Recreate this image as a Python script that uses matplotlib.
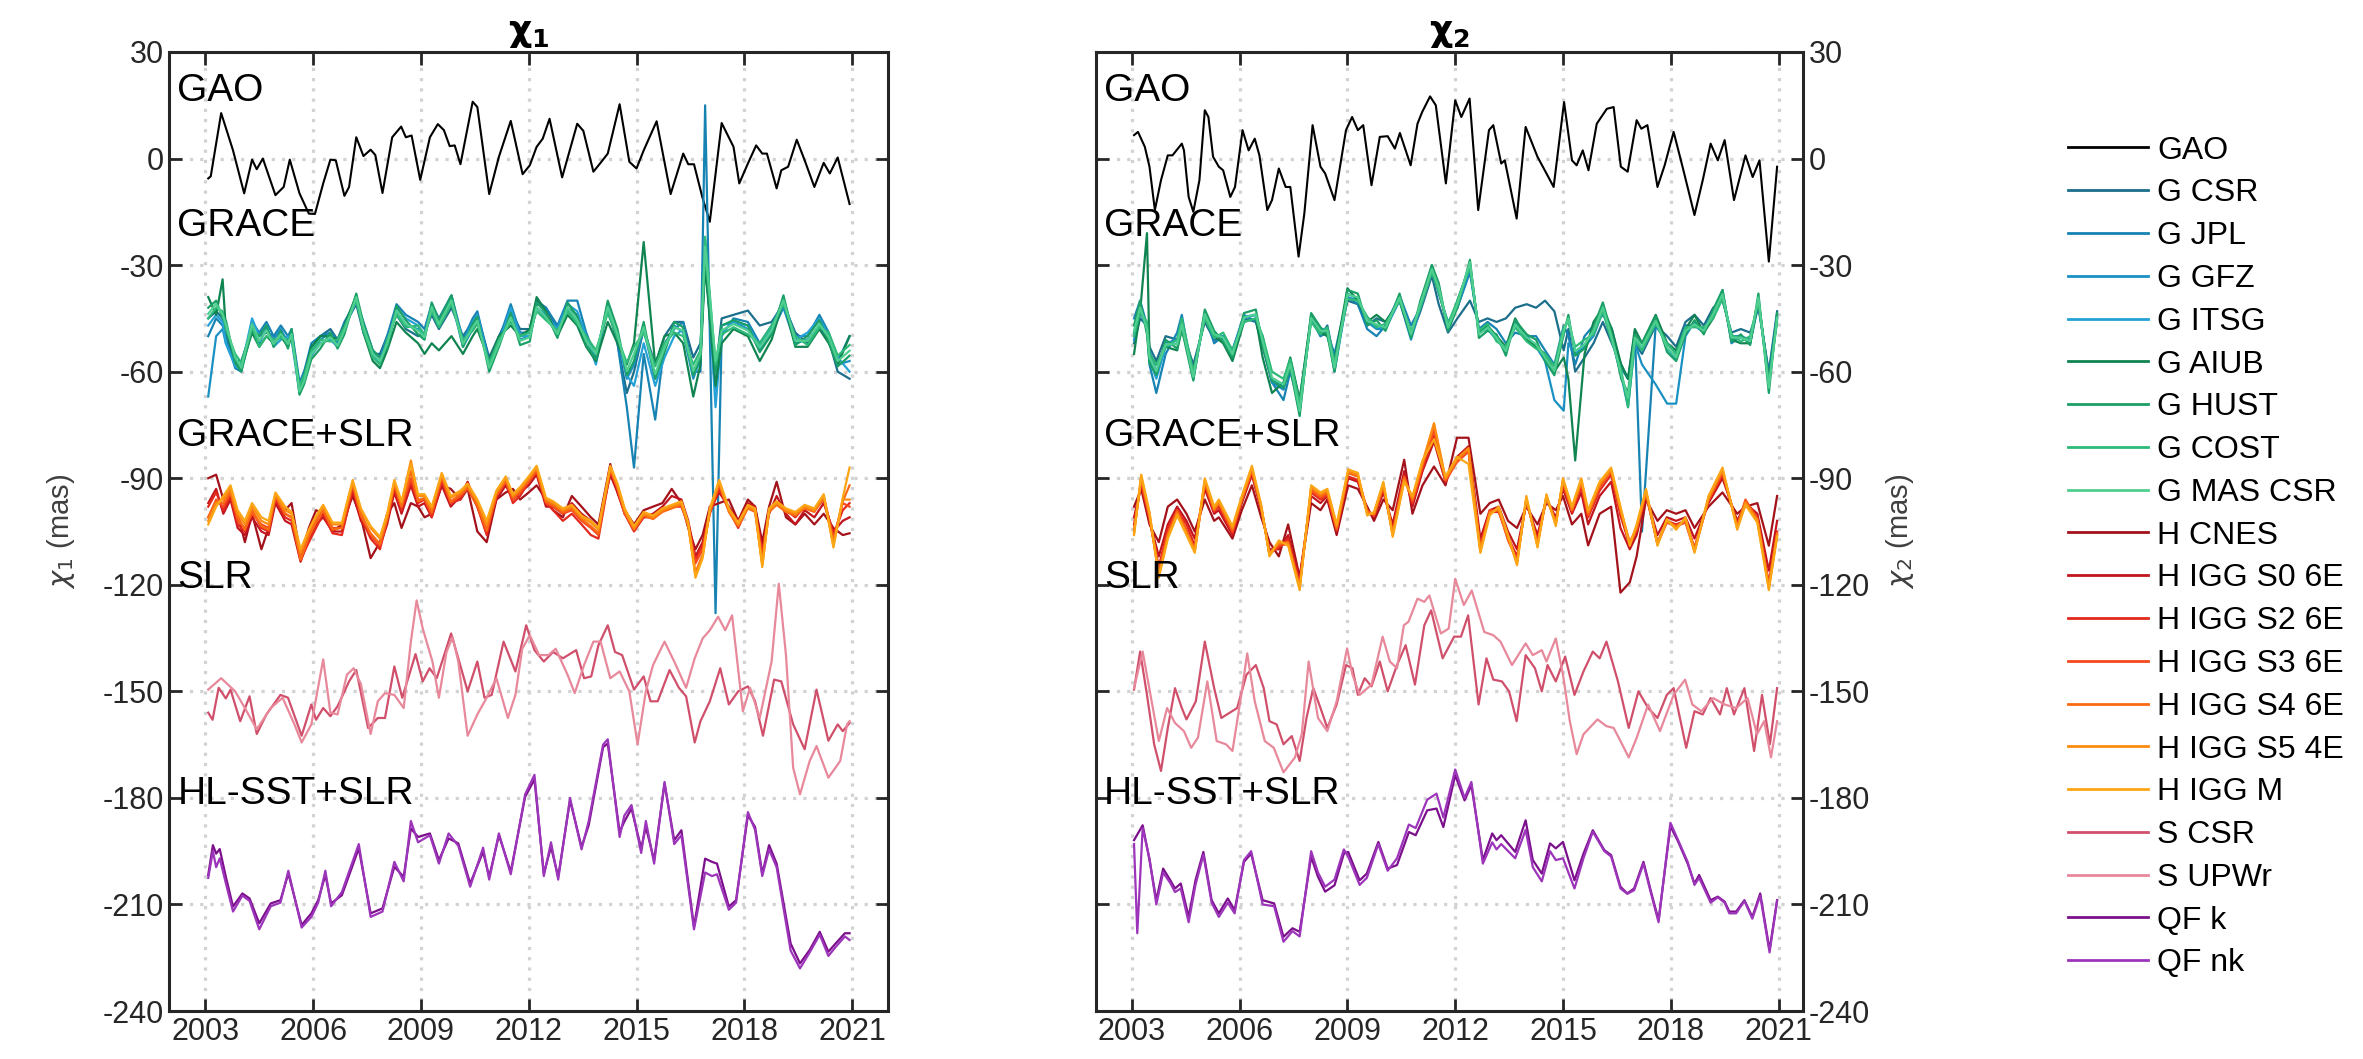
import matplotlib
matplotlib.use('Agg')
import matplotlib.pyplot as plt
from matplotlib.lines import Line2D

plt.rcParams['font.family'] = ['Liberation Sans', 'DejaVu Sans']
plt.rcParams['axes.unicode_minus'] = False

# ---------------- chi1 (left panel) ----------------
t_gao1 = [2003.08, 2003.15, 2003.44, 2003.77, 2004.08, 2004.3, 2004.43, 2004.6, 2004.95, 2005.18,
          2005.35, 2005.62, 2005.88, 2006.05, 2006.28, 2006.48, 2006.63, 2006.87, 2007.0, 2007.2,
          2007.4, 2007.6, 2007.73, 2007.93, 2008.2, 2008.45, 2008.58, 2008.74, 2008.98, 2009.25,
          2009.47, 2009.64, 2009.8, 2009.94, 2010.1, 2010.44, 2010.57, 2010.9, 2011.17, 2011.5,
          2011.83, 2012.03, 2012.22, 2012.39, 2012.58, 2012.93, 2013.35, 2013.52, 2013.8, 2014.0,
          2014.2, 2014.53, 2014.8, 2015.0, 2015.2, 2015.56, 2015.95, 2016.3, 2016.44, 2016.6,
          2016.83, 2017.04, 2017.37, 2017.7, 2017.86, 2018.1, 2018.33, 2018.5, 2018.63, 2018.9,
          2019.03, 2019.22, 2019.46, 2019.68, 2019.95, 2020.21, 2020.38, 2020.6, 2020.93]
gao1 = [-5.6, -5.0, 12.8, 2.3, -9.8, -0.3, -3.0, 0.0, -10.3, -8.0,
        -0.3, -9.8, -15.5, -15.6, -7.0, -0.3, -0.5, -10.5, -8.0, 6.0,
        0.7, 2.5, 1.0, -9.7, 6.0, 9.0, 6.0, 6.5, -6.0, 6.0,
        9.7, 8.0, 3.5, 3.7, -1.6, 16.0, 14.5, -10.0, 0.5, 10.6,
        -4.4, -1.9, 3.3, 5.6, 11.2, -5.3, 9.8, 7.8, -3.7, -1.2,
        1.4, 15.3, -0.9, -2.8, 2.3, 10.5, -10.0, 1.4, -1.6, -1.6,
        -10.8, -17.8, 10.0, 3.3, -7.0, -1.4, 3.7, 1.4, 1.4, -8.4,
        -3.3, -2.3, 5.3, -0.5, -8.0, -1.2, -4.2, 0.3, -12.8]

t_gr1 = [2003.08, 2003.3, 2003.48, 2003.57, 2003.83, 2004.0, 2004.3, 2004.5, 2004.7, 2004.9, 2005.1, 2005.3,
         2005.4, 2005.62, 2005.75, 2005.95, 2006.2, 2006.48, 2006.68, 2006.87, 2007.2, 2007.4, 2007.66, 2007.86,
         2008.06, 2008.32, 2008.58, 2008.92, 2009.1, 2009.3, 2009.5, 2009.85, 2010.17, 2010.44, 2010.57, 2010.9,
         2011.17, 2011.5, 2011.76, 2012.03, 2012.22, 2012.48, 2012.8, 2013.08, 2013.35, 2013.6, 2013.87, 2014.2,
         2014.47, 2014.73, 2014.93, 2015.2, 2015.52, 2015.78, 2016.05, 2016.3, 2016.58, 2016.78, 2016.91, 2017.2,
         2017.37, 2017.7, 2018.1, 2018.43, 2018.76, 2019.09, 2019.42, 2019.76, 2020.09, 2020.35, 2020.6, 2020.93]
g_csr1 = [-45.0, -43.0, -45.0, -49.0, -57.0, -57.0, -48.0, -50.0, -49.0, -50.0, -49.0, -51.0,
          -50.0, -64.0, -60.0, -54.0, -50.0, -48.0, -51.0, -47.0, -41.0, -49.0, -55.0, -55.0,
          -50.0, -44.0, -48.0, -50.0, -49.0, -44.0, -48.0, -42.0, -50.0, -46.0, -44.0, -56.0,
          -50.0, -43.0, -48.0, -48.0, -40.0, -42.0, -48.0, -42.0, -44.0, -50.0, -57.0, -42.0,
          -52.0, -66.0, -60.0, -48.0, -58.0, -50.0, -46.0, -46.0, -56.0, -52.0, -30.0, -60.0,
          -45.0, -44.0, -42.8, -47.0, -46.0, -41.0, -49.0, -52.0, -47.0, -51.0, -60.0, -62.0]
g_jpl1 = [-50.0, -45.0, -47.0, -50.0, -59.0, -60.0, -46.0, -49.0, -46.0, -50.0, -47.0, -50.0,
          -48.0, -63.0, -60.0, -52.0, -50.0, -49.0, -51.0, -46.0, -40.0, -46.0, -54.0, -56.0,
          -50.0, -41.0, -44.0, -46.0, -48.0, -41.0, -45.0, -38.5, -51.0, -45.0, -43.0, -57.0,
          -51.0, -41.0, -49.0, -49.0, -41.0, -42.0, -47.0, -40.0, -40.0, -49.0, -56.0, -41.0,
          -52.0, -70.0, -87.0, -55.0, -73.5, -52.0, -48.0, -46.0, -60.0, -60.0, 15.0, -128.0,
          -50.0, -45.0, -46.0, -52.0, -47.0, -40.0, -50.0, -50.0, -44.0, -49.0, -57.0, -50.0]
g_gfz1 = [-67.0, -50.0, -48.0, -52.0, -58.0, -58.0, -47.0, -52.0, -48.0, -51.0, -48.0, -52.0,
          -49.0, -64.0, -61.0, -55.0, -51.0, -49.0, -52.0, -47.0, -40.0, -48.0, -56.0, -57.0,
          -52.0, -43.0, -47.0, -48.0, -50.0, -43.0, -47.0, -40.0, -53.0, -48.0, -45.0, -58.0,
          -52.0, -44.0, -51.0, -50.0, -42.0, -45.0, -49.0, -42.0, -46.0, -51.0, -56.0, -42.0,
          -50.0, -62.0, -58.0, -48.0, -62.0, -54.0, -47.0, -49.0, -62.0, -56.0, -28.0, -65.0,
          -47.0, -46.0, -48.0, -54.0, -49.0, -42.0, -52.0, -51.0, -47.0, -51.0, -58.0, -57.0]
g_itsg1 = [-47.0, -44.0, -46.0, -52.0, -58.5, -59.0, -45.0, -50.0, -47.0, -53.0, -51.0, -50.0,
           -51.0, -66.0, -62.0, -55.5, -52.0, -51.0, -53.0, -48.0, -40.0, -47.0, -54.5, -57.5,
           -52.5, -42.0, -45.0, -47.0, -50.0, -41.0, -46.0, -39.0, -52.0, -46.0, -44.0, -58.0,
           -52.0, -42.0, -50.0, -50.0, -42.0, -44.0, -48.0, -41.0, -43.0, -50.0, -58.0, -41.0,
           -50.0, -61.0, -64.0, -52.0, -64.0, -56.0, -50.0, -48.0, -61.0, -57.0, -23.0, -70.0,
           -49.0, -46.0, -47.0, -53.0, -48.0, -40.0, -51.0, -49.0, -45.0, -50.0, -56.0, -60.0]
g_aiub1 = [-39.0, -44.0, -34.0, -48.0, -57.0, -59.0, -49.0, -53.0, -50.0, -52.0, -50.0, -53.0,
           -50.0, -64.5, -61.0, -53.0, -50.0, -50.0, -51.0, -47.0, -38.5, -49.0, -57.0, -59.0,
           -54.0, -46.0, -49.0, -52.0, -55.0, -52.0, -54.0, -50.0, -55.0, -50.0, -48.0, -57.0,
           -50.0, -47.0, -50.0, -48.0, -39.0, -43.0, -50.0, -44.0, -47.0, -53.0, -57.0, -46.0,
           -52.0, -58.0, -52.0, -23.5, -58.0, -50.0, -49.0, -52.0, -67.0, -58.0, -30.0, -64.0,
           -52.0, -48.0, -50.0, -57.0, -51.0, -40.0, -53.0, -53.0, -48.0, -52.0, -58.0, -50.0]
g_hust1 = [-42.0, -40.0, -45.0, -45.5, -57.5, -60.0, -48.0, -50.0, -47.0, -53.0, -48.5, -53.5,
           -48.0, -66.5, -63.5, -56.5, -53.5, -49.0, -53.5, -49.5, -38.0, -46.5, -54.0, -56.0,
           -53.5, -41.5, -45.5, -49.5, -51.0, -40.5, -45.5, -38.5, -53.0, -46.5, -44.5, -60.0,
           -53.0, -43.5, -52.5, -51.5, -40.5, -43.5, -50.5, -40.5, -44.5, -52.5, -56.5, -40.0,
           -48.0, -61.0, -57.0, -46.0, -62.0, -54.5, -46.0, -47.5, -61.0, -56.0, -27.0, -60.0,
           -47.0, -45.5, -47.0, -54.5, -49.5, -38.5, -52.5, -50.0, -45.5, -51.5, -58.5, -55.5]
g_cost1 = [-45.0, -42.0, -43.0, -48.0, -55.0, -57.5, -47.5, -53.0, -50.0, -51.0, -50.5, -51.0,
           -50.5, -64.0, -61.0, -54.0, -51.0, -51.5, -51.0, -47.5, -40.0, -48.5, -56.0, -58.0,
           -51.0, -44.0, -47.5, -47.0, -49.5, -43.0, -47.5, -41.0, -51.0, -48.5, -46.5, -57.5,
           -51.0, -46.0, -50.0, -49.0, -43.0, -45.5, -48.5, -43.0, -46.5, -50.0, -54.0, -43.5,
           -50.5, -57.5, -53.0, -49.0, -58.5, -52.0, -49.0, -50.0, -58.0, -54.0, -22.0, -58.0,
           -49.5, -47.5, -49.5, -52.0, -47.0, -41.0, -50.0, -52.5, -47.5, -49.0, -55.5, -52.5]
g_mas1 = [-43.7, -40.9, -44.0, -46.6, -56.0, -58.9, -46.6, -51.3, -48.4, -52.2, -49.4, -52.2,
          -49.4, -65.5, -62.6, -55.0, -52.2, -50.3, -52.7, -48.4, -39.0, -47.5, -55.0, -57.0,
          -52.2, -42.8, -46.6, -48.4, -50.3, -41.8, -46.6, -39.9, -52.2, -47.5, -45.6, -58.9,
          -52.2, -44.7, -51.3, -50.3, -41.8, -44.7, -49.4, -41.8, -45.6, -51.3, -55.0, -41.8,
          -49.4, -59.8, -55.0, -47.5, -60.7, -53.2, -47.5, -48.4, -59.8, -55.0, -24.8, -57.0,
          -48.4, -46.6, -48.4, -53.2, -48.4, -39.9, -51.3, -51.3, -46.6, -50.3, -57.0, -54.1]

t_gs1 = [2003.08, 2003.3, 2003.5, 2003.7, 2003.9, 2004.1, 2004.3, 2004.56, 2004.76, 2004.95, 2005.22, 2005.4,
         2005.65, 2005.88, 2006.08, 2006.28, 2006.54, 2006.8, 2007.1, 2007.33, 2007.6, 2007.86, 2008.06, 2008.26,
         2008.46, 2008.72, 2008.92, 2009.1, 2009.3, 2009.58, 2009.83, 2010.1, 2010.3, 2010.57, 2010.83, 2011.1,
         2011.36, 2011.56, 2011.76, 2012.0, 2012.22, 2012.48, 2012.68, 2012.95, 2013.2, 2013.47, 2013.73, 2013.94,
         2014.27, 2014.47, 2014.67, 2014.93, 2015.2, 2015.46, 2015.72, 2015.98, 2016.25, 2016.44, 2016.64, 2016.84,
         2017.04, 2017.3, 2017.57, 2017.83, 2018.1, 2018.3, 2018.5, 2018.69, 2018.9, 2019.16, 2019.42, 2019.68,
         2019.95, 2020.21, 2020.48, 2020.74, 2020.93]
h_cnes1 = [-90.0, -89.0, -96.0, -93.0, -100.0, -108.0, -100.0, -110.0, -104.0, -96.0, -99.0, -97.0,
           -112.0, -104.0, -99.0, -100.0, -105.0, -103.0, -95.0, -101.0, -112.5, -108.0, -100.0, -97.0,
           -104.0, -97.0, -98.0, -101.0, -100.0, -92.0, -93.0, -96.0, -93.0, -105.0, -108.0, -96.0,
           -94.0, -93.0, -96.0, -94.0, -92.0, -96.0, -99.0, -101.0, -95.0, -98.0, -101.0, -103.0,
           -86.0, -94.0, -99.0, -103.0, -99.0, -98.0, -97.0, -93.0, -97.0, -104.0, -110.0, -106.0,
           -98.0, -97.0, -96.0, -102.0, -96.0, -98.0, -108.0, -98.0, -91.0, -101.0, -103.0, -100.0,
           -103.0, -100.0, -104.0, -106.0, -105.5]
h_s0_1 = [-97.0, -93.0, -100.0, -96.0, -104.0, -106.0, -101.0, -105.0, -106.0, -97.0, -102.0, -103.0,
          -113.5, -107.0, -103.0, -101.0, -105.0, -105.0, -94.0, -102.0, -106.0, -109.0, -103.0, -94.0,
          -100.0, -92.0, -98.0, -97.0, -101.0, -92.0, -98.0, -95.0, -91.0, -98.0, -105.0, -96.0,
          -92.0, -96.0, -94.0, -92.0, -89.0, -98.0, -98.0, -100.0, -97.0, -100.0, -102.0, -104.0,
          -89.0, -94.0, -100.0, -103.0, -101.0, -100.0, -98.0, -95.0, -96.0, -102.0, -112.0, -108.0,
          -99.0, -94.0, -98.0, -102.0, -97.0, -98.0, -110.0, -100.0, -95.0, -100.0, -103.0, -99.0,
          -101.0, -97.0, -105.0, -102.0, -101.0]
h_s2_1 = [-98.0, -94.0, -99.0, -95.0, -103.0, -105.0, -99.0, -104.0, -105.0, -96.0, -101.0, -102.0,
          -113.0, -108.0, -104.0, -100.0, -105.5, -106.0, -93.0, -101.0, -107.0, -110.0, -102.0, -93.0,
          -99.0, -91.0, -97.0, -96.0, -101.0, -91.0, -97.0, -96.0, -92.0, -98.0, -106.0, -95.0,
          -91.0, -97.0, -95.0, -91.0, -88.5, -97.0, -99.0, -102.0, -100.0, -103.0, -106.0, -107.0,
          -88.0, -93.0, -100.0, -105.0, -101.0, -101.0, -99.0, -98.0, -98.0, -103.0, -113.0, -109.0,
          -100.0, -93.0, -99.0, -104.0, -98.0, -99.0, -111.0, -99.0, -97.0, -99.0, -101.0, -98.0,
          -99.0, -96.0, -106.0, -99.0, -97.0]
h_s3_1 = [-101.0, -96.0, -98.0, -94.0, -102.0, -104.0, -100.0, -103.0, -104.0, -95.0, -100.0, -101.0,
          -112.0, -106.0, -102.0, -99.0, -104.0, -104.0, -92.0, -100.0, -106.0, -109.0, -101.0, -92.0,
          -98.0, -90.0, -96.0, -96.0, -100.0, -90.0, -97.0, -95.0, -93.0, -98.0, -105.0, -95.0,
          -91.0, -96.0, -94.0, -91.0, -88.0, -97.0, -98.0, -100.0, -99.0, -102.0, -104.0, -106.0,
          -87.5, -93.0, -100.0, -104.0, -100.0, -101.0, -99.0, -98.0, -97.0, -103.0, -114.0, -110.0,
          -99.5, -92.0, -99.0, -103.0, -98.0, -99.0, -112.0, -99.0, -97.0, -99.0, -100.0, -98.0,
          -99.0, -95.0, -107.0, -97.0, -98.0]
h_s4_1 = [-101.0, -96.5, -97.0, -94.0, -101.0, -104.5, -99.0, -103.5, -104.5, -95.0, -100.0, -101.0,
          -113.0, -106.5, -102.5, -99.0, -104.5, -104.0, -91.5, -100.5, -105.5, -108.5, -101.5, -91.5,
          -98.0, -88.0, -96.5, -95.5, -99.5, -89.5, -96.5, -94.5, -92.5, -97.5, -104.5, -94.5,
          -90.5, -95.5, -93.5, -90.5, -87.5, -96.5, -97.5, -99.5, -98.5, -101.5, -103.5, -105.5,
          -87.0, -92.5, -99.5, -104.5, -100.5, -101.5, -99.5, -98.5, -97.5, -103.5, -116.5, -111.5,
          -99.5, -91.5, -99.5, -103.5, -98.5, -99.5, -114.0, -99.5, -97.5, -99.5, -100.5, -98.5,
          -99.5, -95.5, -108.0, -96.5, -92.0]
h_s5_1 = [-102.0, -97.0, -96.0, -93.0, -100.0, -103.0, -98.0, -102.0, -103.0, -94.5, -99.0, -100.0,
          -111.0, -105.0, -101.0, -98.0, -103.0, -103.0, -91.0, -99.0, -104.0, -107.0, -100.5, -91.0,
          -97.0, -85.0, -95.0, -95.0, -98.5, -89.0, -95.5, -94.0, -92.0, -96.5, -103.0, -94.0,
          -90.0, -95.0, -93.0, -90.0, -87.0, -96.0, -97.0, -99.0, -98.0, -101.0, -102.5, -104.5,
          -87.0, -92.0, -99.0, -104.0, -100.0, -101.0, -99.0, -98.0, -97.0, -103.0, -117.5, -112.0,
          -99.0, -91.0, -99.0, -103.0, -98.0, -99.0, -114.5, -99.0, -97.0, -99.0, -100.0, -98.0,
          -99.0, -95.0, -109.0, -96.0, -96.0]
h_m1 = [-103.0, -98.0, -95.0, -92.0, -99.0, -102.0, -97.0, -101.0, -102.0, -94.0, -98.0, -99.5,
        -110.0, -104.5, -100.5, -97.5, -102.5, -102.5, -90.5, -98.5, -103.5, -106.5, -100.0, -90.5,
        -96.5, -86.0, -94.5, -94.5, -98.0, -88.5, -95.0, -93.5, -91.5, -96.0, -102.0, -93.5,
        -89.5, -94.5, -92.5, -89.5, -86.5, -95.5, -96.5, -98.5, -97.5, -100.5, -102.0, -104.0,
        -86.5, -91.5, -98.5, -103.5, -99.5, -100.5, -98.5, -97.5, -96.5, -102.5, -118.0, -112.5,
        -98.5, -90.5, -98.5, -102.5, -97.5, -98.5, -115.0, -98.5, -96.5, -98.5, -99.5, -97.5,
        -98.5, -94.5, -109.5, -95.5, -87.0]

t_scsr1 = [2003.08, 2003.2, 2003.37, 2003.57, 2003.7, 2003.97, 2004.23, 2004.43, 2004.7, 2005.09,
           2005.3, 2005.68, 2005.95, 2006.08, 2006.28, 2006.48, 2006.68, 2007.0, 2007.2, 2007.53,
           2007.8, 2008.0, 2008.26, 2008.48, 2008.85, 2009.05, 2009.24, 2009.44, 2009.84, 2010.04,
           2010.3, 2010.57, 2010.77, 2010.97, 2011.3, 2011.63, 2011.93, 2012.16, 2012.42, 2012.68,
           2012.95, 2013.32, 2013.54, 2013.74, 2013.94, 2014.2, 2014.4, 2014.6, 2014.93, 2015.2,
           2015.39, 2015.59, 2015.92, 2016.18, 2016.38, 2016.62, 2016.78, 2017.04, 2017.33, 2017.57,
           2017.83, 2018.1, 2018.3, 2018.52, 2018.83, 2019.03, 2019.36, 2019.68, 2020.01, 2020.34,
           2020.6, 2020.74, 2020.93]
s_csr1 = [-156.0, -158.0, -149.0, -152.0, -149.5, -158.4, -151.4, -162.0, -156.5, -151.0,
          -151.8, -162.5, -153.7, -158.0, -154.7, -157.0, -154.2, -147.2, -144.0, -160.3,
          -157.5, -157.5, -143.0, -151.8, -139.5, -147.2, -143.5, -146.3, -133.7, -140.7,
          -150.0, -141.6, -151.8, -151.0, -136.0, -144.4, -131.4, -138.4, -141.6, -138.9,
          -140.7, -138.4, -146.3, -145.8, -137.0, -131.4, -138.9, -139.8, -149.5, -145.8,
          -152.8, -152.8, -144.0, -149.0, -151.4, -164.4, -158.4, -152.8, -143.5, -153.7,
          -150.0, -148.6, -152.8, -162.5, -146.7, -147.2, -159.3, -166.3, -149.5, -163.9,
          -159.3, -161.2, -158.9]
t_supw1 = [2003.08, 2003.44, 2003.83, 2004.1, 2004.43, 2004.82, 2005.15, 2005.48, 2005.68, 2005.95,
           2006.28, 2006.48, 2006.68, 2006.94, 2007.13, 2007.33, 2007.6, 2007.8, 2008.0, 2008.26,
           2008.52, 2008.72, 2008.88, 2009.05, 2009.32, 2009.5, 2009.71, 2009.88, 2010.04, 2010.3,
           2010.57, 2010.83, 2011.1, 2011.42, 2011.63, 2011.82, 2012.03, 2012.29, 2012.55, 2012.75,
           2013.08, 2013.28, 2013.54, 2013.8, 2014.0, 2014.27, 2014.53, 2014.8, 2015.03, 2015.26,
           2015.46, 2015.78, 2016.05, 2016.38, 2016.62, 2016.84, 2017.04, 2017.27, 2017.47, 2017.66,
           2017.96, 2018.16, 2018.43, 2018.76, 2018.96, 2019.16, 2019.36, 2019.55, 2019.82, 2020.01,
           2020.34, 2020.67, 2020.86, 2020.93]
s_upw1 = [-149.5, -146.3, -150.0, -154.7, -160.7, -154.7, -151.8, -159.3, -164.4, -159.3,
          -141.0, -156.0, -156.5, -145.3, -143.5, -148.0, -162.0, -152.8, -150.5, -151.0,
          -154.7, -136.0, -124.4, -132.3, -141.6, -151.8, -139.0, -134.7, -141.6, -162.5,
          -156.5, -151.8, -146.3, -157.5, -151.0, -138.0, -134.2, -139.8, -139.8, -138.0,
          -145.3, -150.5, -142.6, -136.0, -136.0, -146.3, -144.4, -150.0, -164.9, -150.0,
          -142.6, -136.0, -141.6, -149.0, -140.7, -135.1, -132.8, -129.0, -132.8, -128.6,
          -155.6, -149.0, -157.5, -141.6, -119.7, -139.8, -171.5, -179.0, -169.6, -165.4,
          -174.3, -169.6, -159.3, -158.4]

t_qf1 = [2003.08, 2003.21, 2003.3, 2003.4, 2003.57, 2003.77, 2004.03, 2004.23, 2004.5, 2004.82,
         2005.09, 2005.31, 2005.68, 2005.95, 2006.14, 2006.34, 2006.5, 2006.8, 2007.27, 2007.6,
         2007.93, 2008.26, 2008.52, 2008.72, 2008.92, 2009.25, 2009.5, 2009.77, 2010.04, 2010.37,
         2010.73, 2010.9, 2011.17, 2011.5, 2011.9, 2012.16, 2012.42, 2012.62, 2012.82, 2013.15,
         2013.47, 2013.67, 2014.07, 2014.2, 2014.53, 2014.66, 2014.86, 2015.13, 2015.26, 2015.49,
         2015.78, 2016.05, 2016.25, 2016.6, 2016.91, 2017.1, 2017.24, 2017.57, 2017.77, 2018.1,
         2018.3, 2018.5, 2018.69, 2018.9, 2019.29, 2019.55, 2019.82, 2020.1, 2020.34, 2020.54,
         2020.8, 2020.93]
qf_k1 = [-201.7, -193.3, -195.7, -194.4, -202.2, -210.6, -206.9, -208.3, -215.3, -209.7,
         -208.8, -201.3, -215.8, -212.5, -208.8, -201.7, -209.7, -207.4, -194.2, -212.5,
         -211.1, -199.4, -202.2, -188.6, -191.0, -190.0, -197.5, -191.4, -192.8, -204.1,
         -195.2, -202.2, -190.5, -200.8, -179.7, -174.8, -201.3, -193.8, -202.2, -180.7,
         -193.8, -187.7, -165.7, -164.7, -189.6, -186.7, -183.0, -194.2, -188.2, -197.5,
         -176.0, -191.9, -189.1, -216.3, -197.1, -198.0, -198.5, -210.6, -208.8, -184.9,
         -188.2, -201.3, -193.3, -198.5, -221.0, -226.6, -222.8, -217.7, -223.3, -221.0,
         -218.1, -218.1]
qf_nk1 = [-202.5, -195.0, -199.5, -197.0, -204.0, -212.0, -207.5, -209.0, -217.0, -210.5,
          -209.5, -200.5, -216.5, -213.5, -209.5, -200.5, -210.5, -206.5, -193.0, -213.5,
          -212.0, -198.0, -203.5, -186.5, -192.5, -190.5, -198.5, -190.0, -193.5, -205.0,
          -194.0, -203.0, -190.0, -201.5, -179.0, -173.5, -202.0, -192.5, -203.0, -180.0,
          -194.5, -186.5, -165.0, -163.5, -191.0, -185.0, -182.0, -195.5, -186.5, -198.5,
          -175.5, -193.0, -190.5, -217.0, -201.0, -202.0, -201.5, -211.5, -209.5, -184.0,
          -189.0, -202.0, -194.5, -199.5, -223.0, -228.0, -223.5, -218.5, -224.5, -222.0,
          -219.0, -220.0]

# ---------------- chi2 (right panel) ----------------
t_gao2 = [2003.06, 2003.17, 2003.36, 2003.49, 2003.64, 2003.81, 2004.0, 2004.13, 2004.39, 2004.45,
          2004.58, 2004.71, 2004.88, 2005.03, 2005.13, 2005.26, 2005.42, 2005.54, 2005.74, 2005.87,
          2006.08, 2006.25, 2006.42, 2006.55, 2006.77, 2006.9, 2007.09, 2007.28, 2007.41, 2007.64,
          2007.8, 2008.03, 2008.25, 2008.38, 2008.64, 2008.96, 2009.13, 2009.29, 2009.44, 2009.67,
          2009.9, 2010.12, 2010.32, 2010.46, 2010.76, 2010.95, 2011.08, 2011.3, 2011.46, 2011.74,
          2012.0, 2012.17, 2012.4, 2012.64, 2012.94, 2013.06, 2013.28, 2013.38, 2013.71, 2013.96,
          2014.29, 2014.54, 2014.74, 2015.03, 2015.25, 2015.38, 2015.55, 2015.71, 2015.94, 2016.22,
          2016.41, 2016.61, 2016.8, 2017.05, 2017.18, 2017.35, 2017.63, 2017.83, 2018.08, 2018.34,
          2018.66, 2018.89, 2019.11, 2019.31, 2019.5, 2019.76, 2020.08, 2020.28, 2020.47, 2020.73,
          2020.96]
gao2 = [6.6, 7.5, 3.3, -2.3, -14.5, -6.1, 0.9, 0.9, 4.2, 2.3,
        -10.8, -15.0, -6.1, 13.6, 11.7, 0.5, -2.3, -3.3, -10.8, -8.0,
        8.0, 2.3, 5.6, 0.9, -14.5, -11.7, -2.8, -8.0, -8.0, -27.6,
        -15.5, 9.4, -2.3, -4.2, -11.7, 8.0, 11.7, 8.0, 9.4, -7.5,
        6.1, 6.3, 2.8, 7.2, -1.9, 9.8, 13.1, 17.5, 15.0, -7.0,
        16.4, 11.7, 16.9, -14.5, 8.0, 9.4, -1.4, -0.5, -16.9, 8.9,
        0.5, -4.2, -8.0, 15.9, -0.5, -1.9, 2.3, -3.3, 9.8, 14.0,
        14.5, -2.3, -3.7, 10.8, 8.4, 9.4, -8.0, -1.9, 7.5, -2.8,
        -15.9, -6.1, 4.2, -0.5, 5.2, -11.7, 0.9, -5.2, -0.5, -29.0,
        -2.3]

t_gr2 = [2003.06, 2003.23, 2003.42, 2003.49, 2003.68, 2003.94, 2004.26, 2004.39, 2004.71, 2005.03, 2005.29, 2005.54,
         2005.8, 2006.12, 2006.45, 2006.64, 2006.9, 2007.22, 2007.41, 2007.67, 2007.99, 2008.25, 2008.44, 2008.64,
         2009.0, 2009.29, 2009.55, 2009.81, 2010.06, 2010.45, 2010.77, 2011.03, 2011.35, 2011.54, 2011.8, 2012.06,
         2012.41, 2012.66, 2012.9, 2013.15, 2013.41, 2013.67, 2013.99, 2014.25, 2014.5, 2014.76, 2015.02, 2015.15,
         2015.34, 2015.6, 2015.85, 2016.11, 2016.36, 2016.62, 2016.81, 2017.0, 2017.2, 2017.58, 2017.9, 2018.15,
         2018.41, 2018.66, 2018.92, 2019.18, 2019.44, 2019.69, 2019.95, 2020.21, 2020.44, 2020.73, 2020.96]
g_csr2 = [-52.0, -45.0, -47.0, -53.0, -57.0, -50.0, -51.0, -48.0, -58.0, -46.0, -51.0, -51.0,
          -54.0, -45.0, -46.0, -53.0, -63.0, -65.0, -57.0, -68.0, -45.0, -50.0, -47.0, -57.0,
          -40.0, -41.0, -47.0, -45.0, -46.0, -40.0, -50.0, -43.0, -33.0, -41.0, -49.0, -45.0,
          -40.0, -46.0, -45.0, -46.0, -45.0, -42.0, -41.0, -42.0, -40.0, -43.0, -54.0, -48.0,
          -60.0, -56.0, -52.0, -46.0, -52.0, -58.0, -62.0, -52.0, -55.0, -47.0, -50.0, -53.0,
          -46.0, -44.0, -47.0, -42.0, -40.0, -49.0, -48.0, -49.0, -42.0, -60.0, -43.0]
g_jpl2 = [-45.0, -40.0, -47.0, -58.0, -66.0, -55.0, -49.0, -44.0, -62.0, -44.0, -52.0, -50.0,
          -54.0, -44.0, -46.0, -50.0, -63.0, -68.0, -60.0, -70.0, -45.0, -50.0, -49.0, -55.0,
          -39.0, -41.0, -48.0, -50.0, -47.0, -38.5, -47.0, -42.0, -30.0, -38.0, -46.0, -42.0,
          -32.0, -48.0, -46.0, -48.0, -52.0, -49.0, -50.0, -50.0, -54.0, -58.0, -47.0, -50.0,
          -58.0, -50.0, -47.0, -44.0, -48.0, -59.0, -62.0, -49.0, -105.0, -47.0, -52.0, -55.0,
          -47.0, -47.0, -49.0, -44.0, -37.0, -52.0, -50.0, -52.0, -41.0, -61.0, -44.0]
g_gfz2 = [-51.0, -43.0, -48.0, -54.0, -60.0, -52.0, -51.0, -46.0, -61.0, -44.0, -50.0, -50.0,
          -54.0, -45.0, -44.0, -52.0, -63.0, -65.0, -58.0, -70.0, -45.0, -49.0, -48.0, -60.0,
          -39.0, -40.0, -46.0, -48.0, -48.0, -40.0, -51.0, -42.0, -32.0, -37.0, -47.0, -42.0,
          -31.0, -49.0, -48.0, -51.0, -54.0, -47.0, -50.0, -53.0, -57.0, -68.0, -71.0, -52.0,
          -55.0, -53.0, -50.0, -43.0, -51.0, -61.0, -70.0, -52.0, -58.0, -63.6, -69.0, -69.0,
          -50.0, -46.0, -48.0, -44.0, -39.0, -50.0, -50.0, -51.0, -40.0, -62.0, -45.0]
g_itsg2 = [-49.0, -42.0, -47.0, -56.5, -62.0, -53.0, -52.0, -47.0, -62.0, -43.0, -49.0, -51.0,
           -55.5, -44.5, -44.0, -51.0, -62.5, -64.0, -58.5, -71.5, -44.5, -48.0, -48.0, -59.5,
           -38.0, -39.5, -46.0, -47.0, -48.0, -39.0, -50.0, -41.5, -31.0, -36.0, -48.0, -41.5,
           -29.5, -49.0, -48.0, -50.5, -54.5, -46.0, -50.5, -52.5, -56.5, -60.5, -48.0, -45.5,
           -54.5, -52.5, -49.0, -42.0, -50.5, -61.0, -68.0, -50.5, -54.0, -45.0, -53.5, -56.5,
           -48.5, -46.5, -48.0, -43.5, -38.0, -50.5, -50.5, -51.5, -39.5, -64.0, -44.5]
g_aiub2 = [-55.0, -43.0, -21.0, -55.0, -58.0, -53.0, -54.0, -48.0, -60.0, -45.0, -50.0, -52.0,
           -57.0, -46.0, -45.0, -56.0, -66.0, -63.0, -56.0, -68.0, -44.0, -49.0, -50.0, -57.0,
           -36.5, -40.0, -46.0, -44.0, -46.0, -40.0, -50.0, -41.0, -32.0, -37.0, -48.0, -40.0,
           -30.0, -49.0, -47.0, -50.0, -53.0, -45.0, -51.0, -53.0, -55.0, -60.0, -56.0, -62.0,
           -85.0, -55.0, -46.0, -42.0, -48.0, -58.0, -62.0, -48.0, -52.0, -44.0, -52.0, -54.0,
           -48.0, -44.0, -49.0, -45.0, -38.5, -51.0, -52.0, -52.0, -40.0, -62.0, -45.0]
g_hust2 = [-47.0, -40.0, -49.5, -57.5, -61.0, -51.0, -53.5, -48.0, -62.5, -42.5, -48.5, -51.5,
           -56.0, -43.5, -42.5, -52.5, -62.5, -64.5, -59.0, -72.5, -43.5, -47.5, -49.5, -60.0,
           -37.0, -38.0, -47.0, -45.5, -48.5, -38.0, -50.5, -40.0, -30.0, -35.0, -48.5, -42.0,
           -28.5, -50.5, -48.5, -49.5, -55.5, -45.5, -49.5, -51.0, -57.0, -61.0, -49.5, -44.0,
           -55.5, -53.5, -47.5, -40.5, -49.5, -62.0, -66.0, -49.5, -52.0, -44.5, -54.5, -57.0,
           -49.5, -45.5, -49.5, -42.5, -37.0, -51.5, -49.5, -52.5, -38.0, -66.0, -43.5]
g_cost2 = [-50.0, -43.0, -46.0, -55.0, -58.0, -53.0, -51.0, -45.0, -60.0, -45.0, -50.5, -49.0,
           -54.0, -46.0, -45.0, -50.0, -60.0, -62.0, -56.5, -69.0, -46.0, -49.5, -47.5, -57.5,
           -39.5, -40.0, -44.5, -47.5, -46.5, -40.0, -48.5, -42.0, -32.0, -37.5, -46.5, -40.0,
           -30.5, -48.5, -46.5, -51.5, -53.0, -47.5, -51.5, -53.5, -55.0, -58.5, -47.5, -46.0,
           -53.0, -51.0, -49.5, -43.0, -51.5, -59.5, -70.0, -51.5, -54.0, -46.5, -52.0, -55.0,
           -47.5, -47.5, -47.5, -45.0, -39.5, -49.5, -51.5, -50.0, -40.0, -63.0, -46.0]
g_mas2 = [-48.5, -41.9, -48.0, -56.0, -59.8, -52.3, -52.3, -46.7, -61.5, -43.8, -49.5, -50.4,
          -55.1, -44.8, -43.8, -51.4, -61.7, -63.6, -57.9, -71.1, -44.8, -48.5, -48.5, -58.9,
          -38.2, -39.1, -45.7, -46.7, -47.6, -39.1, -49.5, -41.0, -31.1, -36.3, -47.6, -41.0,
          -29.2, -49.5, -47.6, -50.4, -54.2, -46.7, -50.4, -52.3, -56.0, -59.8, -48.5, -45.0,
          -54.2, -52.3, -48.5, -41.9, -50.4, -60.7, -67.3, -50.4, -53.0, -45.7, -53.2, -56.0,
          -48.5, -46.7, -48.5, -43.8, -38.2, -50.4, -50.4, -51.4, -39.1, -64.5, -44.8]

t_gs2 = [2003.06, 2003.26, 2003.49, 2003.75, 2004.0, 2004.26, 2004.52, 2004.75, 2005.03, 2005.29, 2005.42, 2005.8,
         2006.06, 2006.34, 2006.6, 2006.83, 2007.09, 2007.35, 2007.67, 2007.99, 2008.25, 2008.44, 2008.7, 2009.02,
         2009.29, 2009.55, 2009.74, 2010.0, 2010.26, 2010.58, 2010.81, 2011.09, 2011.41, 2011.73, 2012.05, 2012.37,
         2012.7, 2012.96, 2013.21, 2013.47, 2013.72, 2013.98, 2014.29, 2014.54, 2014.8, 2015.0, 2015.25, 2015.51,
         2015.7, 2016.02, 2016.34, 2016.6, 2016.86, 2017.05, 2017.31, 2017.63, 2017.89, 2018.15, 2018.41, 2018.66,
         2019.05, 2019.44, 2019.85, 2020.08, 2020.41, 2020.73, 2020.96]
h_cnes2 = [-98.0, -93.0, -103.0, -108.0, -98.0, -96.0, -100.0, -105.0, -96.0, -102.0, -101.0, -107.0,
           -99.0, -92.0, -101.0, -108.0, -112.0, -103.0, -117.9, -97.0, -99.0, -96.0, -106.0, -92.0,
           -93.0, -98.0, -102.0, -96.0, -99.0, -84.8, -100.0, -92.0, -86.7, -92.0, -78.6, -78.6,
           -100.0, -97.0, -96.0, -102.0, -104.0, -98.0, -103.0, -97.0, -99.0, -95.0, -103.0, -100.0,
           -108.9, -100.0, -98.0, -122.2, -119.3, -112.0, -96.0, -102.0, -99.0, -100.0, -99.0, -104.0,
           -98.0, -94.0, -100.0, -98.0, -97.0, -109.0, -95.0]
h_s0_2 = [-101.0, -92.0, -102.0, -112.0, -103.0, -98.0, -102.0, -107.0, -93.0, -100.0, -99.0, -106.0,
          -97.0, -89.0, -99.0, -110.0, -110.0, -106.0, -118.0, -95.0, -97.0, -95.0, -105.0, -90.0,
          -91.0, -99.0, -101.0, -94.0, -103.0, -88.0, -98.0, -88.0, -79.6, -91.0, -84.0, -81.0,
          -107.0, -99.0, -98.0, -105.0, -110.0, -97.0, -106.0, -96.0, -101.0, -93.0, -100.0, -94.0,
          -103.0, -95.0, -91.0, -104.0, -110.0, -106.0, -95.0, -106.0, -101.0, -102.0, -101.0, -107.0,
          -97.0, -90.0, -102.0, -97.0, -100.0, -116.0, -102.0]
h_s2_2 = [-103.0, -91.5, -101.5, -115.0, -104.0, -99.0, -103.0, -109.0, -92.0, -99.5, -98.0, -105.5,
          -96.5, -88.5, -98.5, -111.0, -109.5, -107.0, -119.5, -94.0, -96.0, -95.0, -104.5, -89.5,
          -90.5, -99.5, -100.5, -93.0, -104.5, -89.5, -97.0, -87.5, -78.0, -91.0, -85.0, -82.0,
          -109.0, -99.5, -99.5, -106.5, -112.0, -96.5, -107.5, -95.5, -102.0, -92.0, -99.5, -92.5,
          -101.0, -93.5, -89.0, -100.5, -109.0, -104.5, -94.5, -108.5, -102.0, -103.0, -102.0, -109.5,
          -96.5, -89.0, -103.0, -96.5, -101.0, -119.5, -105.0]
h_s3_2 = [-104.5, -90.5, -101.0, -116.0, -105.5, -99.0, -104.5, -110.5, -91.5, -99.0, -97.0, -105.0,
          -96.0, -88.0, -98.0, -111.5, -109.0, -108.5, -120.0, -93.5, -95.5, -94.5, -104.5, -88.5,
          -89.5, -99.0, -100.5, -92.5, -105.5, -89.5, -96.5, -86.5, -76.5, -90.5, -85.5, -82.5,
          -110.5, -99.0, -99.0, -107.5, -113.0, -96.0, -108.5, -95.0, -102.5, -91.0, -99.0, -91.5,
          -100.5, -92.5, -88.0, -99.0, -108.5, -104.5, -94.0, -108.5, -102.5, -103.5, -102.5, -110.5,
          -96.0, -88.5, -103.5, -96.0, -101.5, -120.0, -106.0]
h_s4_2 = [-105.0, -90.0, -100.5, -117.0, -106.0, -99.5, -105.0, -110.0, -91.0, -99.0, -97.0, -104.5,
          -96.0, -87.5, -98.5, -111.0, -108.5, -108.0, -120.5, -93.0, -95.0, -94.0, -104.0, -88.5,
          -89.5, -99.5, -100.0, -92.0, -105.5, -90.0, -96.0, -86.0, -75.0, -90.5, -85.0, -82.0,
          -110.0, -99.5, -99.0, -107.0, -113.5, -96.0, -108.5, -95.5, -102.5, -91.0, -99.0, -91.0,
          -100.0, -92.0, -88.0, -99.0, -108.0, -104.0, -94.0, -108.0, -102.0, -103.5, -102.0, -110.0,
          -96.0, -88.0, -103.5, -96.5, -101.5, -120.5, -105.5]
h_s5_2 = [-105.5, -89.5, -100.0, -117.5, -106.5, -100.0, -105.5, -110.5, -90.5, -98.5, -96.5, -104.0,
          -95.5, -87.0, -98.0, -111.5, -108.0, -108.5, -121.0, -92.5, -94.5, -93.5, -103.5, -88.0,
          -89.0, -100.0, -100.0, -91.5, -106.0, -90.5, -95.5, -85.5, -74.5, -90.0, -84.5, -81.5,
          -110.5, -100.0, -98.5, -106.5, -114.0, -95.5, -109.0, -95.0, -103.0, -90.5, -98.5, -90.5,
          -99.5, -91.5, -87.5, -98.5, -108.5, -103.5, -93.5, -108.5, -102.0, -104.0, -101.5, -110.5,
          -95.5, -87.5, -104.0, -97.0, -102.0, -121.0, -106.0]
h_m2 = [-106.0, -89.0, -99.5, -118.0, -107.0, -100.5, -106.0, -111.0, -90.0, -98.0, -96.0, -103.5,
        -95.0, -86.5, -97.5, -112.0, -107.5, -109.0, -121.5, -92.0, -94.0, -93.0, -103.0, -87.5,
        -88.5, -100.5, -99.5, -91.0, -106.5, -91.0, -95.0, -85.0, -79.0, -89.5, -84.0, -86.0,
        -111.0, -100.5, -98.0, -106.0, -114.5, -95.0, -109.5, -94.5, -103.5, -90.0, -98.0, -90.0,
        -99.0, -91.0, -87.0, -98.0, -109.0, -103.0, -93.0, -109.0, -101.5, -104.5, -101.0, -111.0,
        -95.0, -87.0, -104.5, -97.5, -102.5, -121.5, -106.5]

t_scsr2 = [2003.06, 2003.23, 2003.42, 2003.62, 2003.81, 2004.0, 2004.2, 2004.39, 2004.52, 2004.78,
           2005.03, 2005.29, 2005.49, 2005.93, 2006.19, 2006.45, 2006.67, 2006.83, 2007.03, 2007.22,
           2007.45, 2007.67, 2007.86, 2008.05, 2008.25, 2008.44, 2008.7, 2008.96, 2009.14, 2009.29,
           2009.48, 2009.67, 2009.9, 2010.12, 2010.38, 2010.62, 2010.88, 2011.14, 2011.33, 2011.65,
           2011.97, 2012.16, 2012.36, 2012.65, 2012.87, 2013.06, 2013.3, 2013.5, 2013.71, 2013.96,
           2014.22, 2014.41, 2014.57, 2014.8, 2015.06, 2015.32, 2015.57, 2015.83, 2016.02, 2016.21,
           2016.53, 2016.83, 2017.1, 2017.37, 2017.63, 2017.89, 2018.08, 2018.43, 2018.66, 2018.89,
           2019.11, 2019.37, 2019.56, 2019.76, 2020.05, 2020.32, 2020.54, 2020.76, 2020.96]
s_csr2 = [-149.5, -138.8, -151.0, -164.9, -172.4, -160.3, -149.1, -154.7, -157.9, -152.8,
          -136.0, -149.1, -157.5, -154.7, -145.3, -142.6, -149.1, -158.4, -159.3, -164.9,
          -162.6, -169.6, -157.5, -149.1, -154.7, -160.3, -153.7, -142.6, -143.5, -151.0,
          -146.3, -148.6, -141.6, -150.0, -142.6, -137.0, -148.1, -131.4, -127.2, -140.7,
          -134.6, -134.6, -128.6, -153.7, -140.7, -146.7, -147.2, -150.0, -158.4, -139.8,
          -143.5, -150.0, -142.6, -147.2, -140.2, -151.0, -144.4, -138.8, -140.7, -136.0,
          -147.2, -160.3, -150.0, -154.7, -157.5, -151.0, -149.1, -165.9, -155.6, -156.5,
          -151.9, -156.5, -149.1, -156.5, -149.1, -166.8, -151.0, -164.9, -149.1]
t_supw2 = [2003.06, 2003.3, 2003.55, 2003.75, 2003.98, 2004.2, 2004.45, 2004.65, 2004.84, 2005.1,
           2005.36, 2005.62, 2005.8, 2006.06, 2006.21, 2006.42, 2006.7, 2006.95, 2007.22, 2007.54,
           2007.73, 2007.92, 2008.18, 2008.44, 2008.7, 2008.99, 2009.14, 2009.34, 2009.67, 2009.98,
           2010.18, 2010.38, 2010.57, 2010.7, 2010.95, 2011.14, 2011.28, 2011.6, 2011.82, 2012.0,
           2012.24, 2012.46, 2012.81, 2013.06, 2013.26, 2013.58, 2013.96, 2014.16, 2014.41, 2014.54,
           2014.8, 2015.0, 2015.19, 2015.38, 2015.57, 2015.96, 2016.21, 2016.41, 2016.6, 2016.83,
           2017.05, 2017.37, 2017.7, 2018.08, 2018.4, 2018.6, 2018.85, 2019.18, 2019.5, 2019.82,
           2020.14, 2020.4, 2020.6, 2020.79, 2020.96]
s_upw2 = [-149.1, -138.8, -152.8, -164.0, -154.7, -158.9, -161.2, -165.9, -163.0, -147.2,
          -164.0, -164.9, -166.8, -150.0, -139.3, -152.8, -164.0, -165.9, -172.8, -168.6,
          -162.0, -141.6, -157.5, -161.2, -152.8, -137.9, -145.3, -151.0, -148.1, -134.6,
          -141.6, -143.5, -131.4, -130.4, -123.9, -124.8, -123.0, -133.7, -132.3, -118.3,
          -125.7, -121.6, -133.3, -134.2, -136.0, -142.6, -136.5, -139.8, -138.4, -141.6,
          -135.1, -145.3, -158.4, -167.7, -162.1, -157.9, -159.8, -160.3, -164.0, -168.6,
          -163.1, -153.7, -161.2, -151.0, -146.7, -153.7, -155.6, -151.9, -153.7, -154.7,
          -151.9, -162.1, -158.4, -168.6, -158.4]

t_qf2 = [2003.06, 2003.3, 2003.49, 2003.68, 2003.87, 2004.07, 2004.2, 2004.36, 2004.58, 2004.77,
         2004.99, 2005.22, 2005.42, 2005.67, 2005.86, 2006.12, 2006.32, 2006.64, 2006.96, 2007.22,
         2007.47, 2007.67, 2007.99, 2008.18, 2008.38, 2008.64, 2008.9, 2009.02, 2009.34, 2009.54,
         2009.86, 2010.12, 2010.38, 2010.71, 2010.9, 2011.22, 2011.48, 2011.67, 2012.0, 2012.26,
         2012.45, 2012.77, 2013.03, 2013.15, 2013.28, 2013.67, 2013.96, 2014.16, 2014.41, 2014.64,
         2014.8, 2015.0, 2015.32, 2015.57, 2015.83, 2016.15, 2016.34, 2016.6, 2016.79, 2016.98,
         2017.24, 2017.44, 2017.66, 2017.99, 2018.21, 2018.47, 2018.66, 2018.79, 2019.11, 2019.31,
         2019.5, 2019.63, 2019.82, 2020.05, 2020.27, 2020.49, 2020.75, 2020.96]
qf_k2 = [-191.9, -187.7, -197.5, -208.8, -199.9, -203.2, -205.5, -204.1, -213.5, -203.2,
         -195.2, -208.8, -212.5, -208.3, -211.6, -198.0, -195.7, -208.8, -209.7, -219.1,
         -216.7, -217.7, -196.6, -202.2, -206.4, -204.6, -195.7, -195.2, -203.2, -201.3,
         -192.4, -199.9, -198.9, -189.6, -190.5, -183.5, -183.0, -188.2, -173.6, -180.7,
         -176.4, -197.5, -190.0, -191.9, -190.5, -195.2, -186.3, -197.5, -201.3, -192.8,
         -194.2, -192.4, -203.2, -195.7, -189.1, -194.7, -196.1, -205.0, -206.9, -205.5,
         -198.0, -206.0, -214.4, -188.0, -192.4, -198.5, -204.1, -201.7, -208.8, -207.8,
         -209.2, -212.0, -212.0, -208.8, -213.5, -206.9, -222.8, -208.8]
t_qf2_nk = [2003.06, 2003.15] + t_qf2[1:]
qf_nk2 = [-193.0, -218.1, -188.5,
          -197.0, -210.0, -201.0, -204.0, -206.5, -205.5, -215.0, -204.5, -196.0, -209.5,
          -213.5, -209.5, -212.5, -197.5, -195.0, -210.0, -210.5, -220.5, -217.5, -219.0,
          -195.0, -201.0, -205.0, -203.0, -194.5, -196.5, -204.5, -202.5, -193.0, -200.5,
          -197.0, -187.5, -188.5, -180.5, -178.8, -185.5, -172.0, -180.0, -175.5, -198.5,
          -192.5, -194.5, -193.0, -197.0, -189.0, -199.5, -203.5, -195.0, -197.5, -197.0,
          -205.5, -197.0, -189.5, -195.0, -196.5, -205.5, -207.0, -206.0, -198.5, -206.5,
          -215.0, -187.0, -192.0, -198.0, -204.5, -202.5, -209.5, -208.0, -209.5, -212.5,
          -212.5, -209.0, -214.0, -207.5, -223.5, -209.0]

names = ['GAO', 'G CSR', 'G JPL', 'G GFZ', 'G ITSG', 'G AIUB', 'G HUST', 'G COST', 'G MAS CSR',
         'H CNES', 'H IGG S0 6E', 'H IGG S2 6E', 'H IGG S3 6E', 'H IGG S4 6E', 'H IGG S5 4E', 'H IGG M',
         'S CSR', 'S UPWr', 'QF k', 'QF nk']
colors = ['#000000', '#1b6e8c', '#1683b3', '#1a91c2', '#24a2d6', '#0f8450', '#1b9f66', '#2dba78', '#4fcf8f',
          '#a3111a', '#c2151d', '#e3281d', '#f64a1e', '#fb6a13', '#fd8b10', '#fca515',
          '#d0506c', '#e8889b', '#7c0f8c', '#9c35ba']

panel1 = [(t_gao1, gao1),
          (t_gr1, g_csr1), (t_gr1, g_jpl1), (t_gr1, g_gfz1), (t_gr1, g_itsg1),
          (t_gr1, g_aiub1), (t_gr1, g_hust1), (t_gr1, g_cost1), (t_gr1, g_mas1),
          (t_gs1, h_cnes1), (t_gs1, h_s0_1), (t_gs1, h_s2_1), (t_gs1, h_s3_1),
          (t_gs1, h_s4_1), (t_gs1, h_s5_1), (t_gs1, h_m1),
          (t_scsr1, s_csr1), (t_supw1, s_upw1), (t_qf1, qf_k1), (t_qf1, qf_nk1)]
panel2 = [(t_gao2, gao2),
          (t_gr2, g_csr2), (t_gr2, g_jpl2), (t_gr2, g_gfz2), (t_gr2, g_itsg2),
          (t_gr2, g_aiub2), (t_gr2, g_hust2), (t_gr2, g_cost2), (t_gr2, g_mas2),
          (t_gs2, h_cnes2), (t_gs2, h_s0_2), (t_gs2, h_s2_2), (t_gs2, h_s3_2),
          (t_gs2, h_s4_2), (t_gs2, h_s5_2), (t_gs2, h_m2),
          (t_scsr2, s_csr2), (t_supw2, s_upw2), (t_qf2, qf_k2), (t_qf2_nk, qf_nk2)]

group_labels = ['GAO', 'GRACE', 'GRACE+SLR', 'SLR', 'HL-SST+SLR']
group_y = [19, -19, -78, -118, -179]

fig = plt.figure(figsize=(23.63, 10.59), dpi=100)
ax1 = fig.add_axes([0.0717, 0.0453, 0.3041, 0.9056])
ax2 = fig.add_axes([0.4638, 0.0453, 0.2992, 0.9056])

edge = '#262626'
for ax, data, title, xmax in [(ax1, panel1, r'$\mathbf{\chi_1}$', 2022),
                              (ax2, panel2, r'$\mathbf{\chi_2}$', 2021.68)]:
    for (t, v), c in zip(data, colors):
        ax.plot(t, v, color=c, linewidth=1.6 if c != '#000000' else 1.5)
    ax.set_xlim(2002, xmax)
    ax.set_ylim(-240, 30)
    ax.set_xticks(range(2003, 2022, 3))
    ax.set_yticks(range(-240, 31, 30))
    ax.grid(True, linestyle=(0, (1.0, 2.2)), color='#d2d2d2', linewidth=2.3)
    ax.set_axisbelow(True)
    for s in ax.spines.values():
        s.set_linewidth(2.2)
        s.set_color(edge)
    ax.tick_params(direction='in', length=9, width=2, top=True, right=True, left=True,
                   labelsize=22, colors=edge, pad=4)
    ax.set_title(title, fontsize=26, fontweight='bold', pad=8)
    for lab, y in zip(group_labels, group_y):
        ax.text(2002.22, y, lab, fontsize=28, va='center', ha='left', color='black')

ax1.set_ylabel(r'$\chi_1$ (mas)', fontsize=21, color='#404040', labelpad=18)
ax2.tick_params(labelleft=False, labelright=True)
ax2.yaxis.set_label_position('right')
ax2.set_ylabel(r'$\chi_2$ (mas)', fontsize=21, color='#404040', labelpad=10)

handles = [Line2D([0], [0], color=c, linewidth=2) for c in colors]
fig.legend(handles, names, loc='upper left', bbox_to_anchor=(0.8685, 0.887), frameon=False,
           fontsize=23, handlelength=2.5, handletextpad=0.28, labelspacing=0.40, borderpad=0)

fig.savefig('out.png', dpi=100)
